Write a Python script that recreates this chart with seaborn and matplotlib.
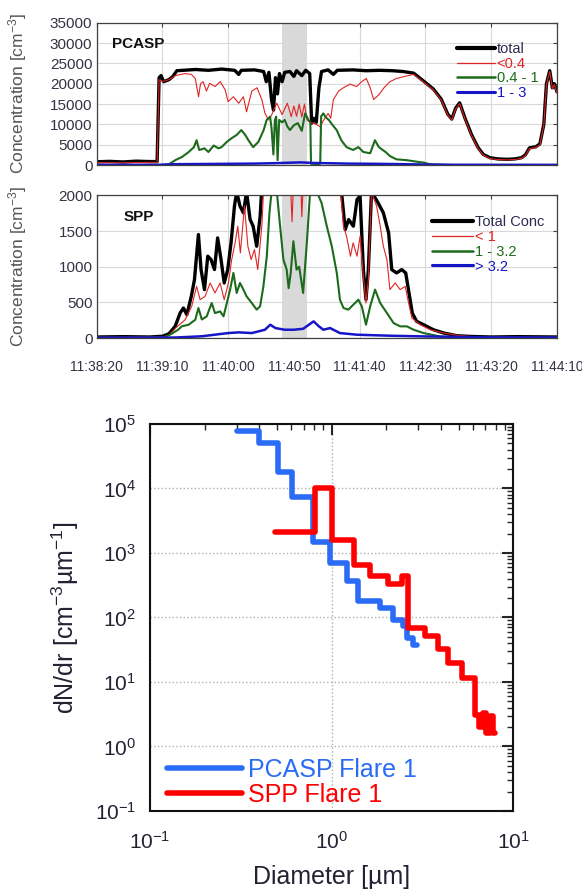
"""PCASP / SPP flare time series and size distribution."""
import matplotlib

matplotlib.use("Agg")
import matplotlib.pyplot as plt
import numpy as np
import seaborn as sns
from matplotlib.lines import Line2D
from matplotlib.ticker import LogLocator, NullFormatter

# ---------- data ----------
# time in seconds after 11:38:20
TIME_TICKS = [0, 50, 100, 150, 200, 250, 300, 350]
TIME_LABELS = ["11:38:20", "11:39:10", "11:40:00", "11:40:50",
               "11:41:40", "11:42:30", "11:43:20", "11:44:10"]
FLARE_SPAN = (141, 160)

PCASP_TOTAL = [
    (0, 800), (10, 900), (20, 750), (30, 950), (40, 850), (46, 850), (47.5, 21500),
    (49, 22000), (51, 20500), (55, 21000), (58, 21800), (61, 23200), (66, 23300),
    (75, 23500), (85, 23300), (95, 23600), (105, 23300), (108, 22300), (110, 23300),
    (120, 23400), (127, 23000), (129, 20500), (131, 22800), (133, 16000), (134.5, 13500),
    (136, 21500), (137.5, 17500), (139, 22500), (141, 20500), (143, 22800), (147, 23000),
    (150, 21800), (152, 23200), (156, 22000), (159, 23300), (162, 22500), (163.5, 10300),
    (165, 11500), (167, 10500), (169, 19000), (171, 23000), (176, 23400), (180, 22300),
    (183, 23300), (195, 23400), (205, 23200), (215, 23300), (225, 23200), (233, 23000),
    (241, 22600), (248, 20800), (256, 18700), (262, 16200), (267, 12500), (270, 11300),
    (273, 14000), (276, 15300), (280, 11600), (285, 7500), (290, 4300), (294, 2600),
    (299, 1800), (305, 1500), (312, 1400), (318, 1500), (323, 1800), (326, 2500),
    (329, 4200), (334, 4500), (337, 5200), (340, 10000), (342, 20000), (344.5, 23200),
    (346.5, 19000), (348, 20000), (350, 18000),
]
PCASP_SMALL = [
    (0, 600), (20, 550), (40, 650), (46, 600), (47.5, 21000), (50, 20500), (55, 21000),
    (60, 22000), (67, 22500), (72, 22300), (75, 21300), (77.5, 16800), (79, 20000),
    (81, 20500), (83.5, 18200), (86, 20100), (90, 19300), (94, 20500), (97.7, 18500),
    (100, 15600), (104, 16800), (108, 15200), (111.6, 16800), (114, 13100), (118, 18200),
    (122, 19000), (125.6, 16100), (128, 12700), (130.6, 11100), (133, 12300), (137, 15200),
    (141, 12400), (145, 15200), (148, 11900), (150, 14500), (152, 12000), (154, 15000),
    (156, 11800), (158, 15000), (160, 11100), (162, 10500), (165, 10300), (168, 9800),
    (170, 9400), (172.5, 11000), (176, 12700), (178, 11500), (180, 16100), (184, 18200),
    (187.6, 19000), (192.7, 19900), (197.7, 19300), (201.5, 20500), (205, 21300),
    (208, 19000), (210.6, 16100), (214.6, 17300), (218.5, 19000), (223, 20500),
    (228, 21300), (233, 21700), (241, 22300), (248, 20600), (256, 18500), (262, 16000),
    (267, 12300), (270, 11100), (273, 13800), (276, 15100), (280, 11400), (285, 7300),
    (290, 4100), (294, 2400), (299, 1600), (305, 1350), (312, 1250), (318, 1350),
    (323, 1650), (326, 2300), (329, 4000), (334, 4300), (337, 5000), (340, 9800),
    (342, 19800), (344.5, 23000), (346.5, 18800), (348, 19800), (350, 17800),
]
PCASP_MID = [
    (0, 0), (50, 0), (55, 200), (60, 1230), (65, 2000), (70, 3200), (74, 4400), (76, 6100),
    (78, 3700), (82, 4100), (85, 3200), (89, 4800), (92.6, 4100), (95, 4400), (99, 5700),
    (102.7, 6600), (106.5, 7400), (110, 8600), (113, 7400), (115.4, 6100), (119, 4400),
    (123, 5700), (127, 8600), (129.3, 11100), (131.9, 11900), (133, 9000), (134.4, 2600),
    (135.5, 11000), (136.5, 11900), (137.6, 1200), (138.8, 11100), (141, 10500),
    (143, 11100), (145, 9500), (147, 8600), (150, 9800), (153, 10300), (156, 8400),
    (158.5, 12700), (161, 11100), (162.5, 10500), (163, 300), (168, 200), (170, 300),
    (170.7, 12000), (172.4, 12700), (174, 11800), (176.5, 11100), (179, 10000),
    (182.5, 8600), (186, 6100), (190, 4400), (195, 3700), (199, 4400), (202.8, 3200),
    (208, 2900), (211.6, 6100), (214.6, 4400), (219.7, 3200), (223, 2200), (228, 1400),
    (235.6, 1200), (243.3, 820), (248.6, 600), (254, 150), (270, 0), (350, 0),
]
PCASP_LARGE = [
    (0, 50), (47, 60), (60, 200), (80, 250), (100, 300), (120, 350), (135, 450),
    (145, 550), (155, 650), (165, 500), (175, 450), (190, 350), (210, 300), (230, 220),
    (250, 120), (270, 60), (350, 40),
]

SPP_TOTAL = [
    (0, 15), (20, 20), (40, 15), (50, 25), (55, 60), (59.7, 164), (63.5, 351), (66, 421),
    (68.6, 328), (72, 585), (74.4, 819), (77.4, 1451), (79.4, 959), (82, 679), (84.5, 1147),
    (87, 1100), (89.6, 960), (92, 1404), (94.6, 1100), (97, 772), (99.7, 960), (102.2, 1334),
    (104.8, 1849), (106.5, 2050), (109, 1850), (111.6, 1755), (114, 2050), (116.7, 1661),
    (119, 1568), (121.7, 1287), (124.3, 1700), (125.6, 2100), (130, 2600), (140, 3200),
    (150, 3500), (160, 3400), (170, 3000), (180, 2500), (184, 2100), (186.5, 1989),
    (189, 1521), (191.6, 1661), (195.2, 1568), (198, 1942), (200.3, 1989), (202.8, 959),
    (204.8, 538), (206.6, 959), (209, 2050), (214, 1895), (218, 1755), (222, 1474),
    (224.4, 959), (228, 913), (232, 959), (235, 913), (237.5, 632), (240, 351),
    (243.3, 234), (248.6, 187), (256, 117), (264, 70), (274, 33), (284, 23), (300, 15),
    (320, 20), (350, 15),
]
SPP_SMALL = [
    (0, 10), (50, 15), (55, 40), (60, 140), (67.3, 257), (72.3, 445), (76, 725),
    (78.7, 538), (82.5, 585), (86.3, 772), (90, 632), (93.9, 772), (97, 538), (100.2, 772),
    (102.7, 1100), (105.3, 1334), (107.3, 1568), (109.3, 1193), (112.4, 1849), (115, 1287),
    (117.5, 1100), (120, 1240), (122.5, 960), (125.6, 1568), (127, 2100), (135, 2500),
    (145, 2400), (147.5, 2100), (148.6, 1630), (149.5, 2100), (155, 2300), (156, 1700),
    (157, 2100), (170, 2600), (183, 2300), (185.5, 2050), (187.7, 1568), (190, 1427),
    (193, 1147), (195, 1334), (198, 1147), (200.3, 1427), (202.8, 866), (204.8, 491),
    (206.6, 819), (209, 2050), (212.9, 1849), (215.6, 1568), (218, 1287), (220.7, 1100),
    (223, 679), (227, 772), (230.8, 679), (234.6, 725), (237.2, 491), (239.7, 281),
    (246, 187), (253.7, 117), (263.8, 70), (276.5, 33), (289, 15), (350, 8),
]
SPP_MID = [
    (0, 3), (51, 5), (57, 60), (62, 117), (64.7, 164), (70, 187), (75, 257), (77.4, 421),
    (80, 260), (83.7, 304), (87.5, 491), (90, 350), (93.9, 374), (96.5, 304), (99, 491),
    (101.5, 679), (104, 913), (106.5, 632), (109, 772), (111.6, 679), (114, 585),
    (118, 491), (121.7, 398), (124.3, 445), (126.8, 725), (129.4, 1147), (131.4, 1755),
    (133, 2050), (137, 2050), (139.5, 1570), (142, 1100), (144.5, 960), (146, 700),
    (147.5, 900), (149.6, 1357), (152, 959), (154, 1000), (157, 632), (160, 1380),
    (162.3, 2050), (167.4, 2050), (171, 1895), (175, 1568), (178.8, 1287), (182.6, 913),
    (185, 538), (187.7, 421), (191.4, 398), (195.2, 468), (199, 538), (201.6, 445),
    (204.8, 187), (208, 445), (211.7, 679), (215.6, 491), (220.7, 351), (225.8, 210),
    (230.8, 164), (235.9, 164), (241, 117), (248.6, 70), (261, 23), (275, 8), (350, 5),
]
SPP_LARGE = [
    (0, 5), (60, 8), (80, 25), (100, 70), (108, 80), (118, 70), (128, 117), (132, 187),
    (136, 140), (143, 117), (150, 117), (157, 130), (165, 234), (169, 164), (172.4, 117),
    (177.5, 140), (185, 70), (198, 47), (223, 33), (248.6, 23), (300, 10), (350, 8),
]

# dN/dr size distribution, bin edges in µm
PCASP_EDGES = [0.30, 0.40, 0.507, 0.605, 0.79, 0.98, 1.21, 1.40, 1.84, 2.18, 2.46, 2.61, 2.81, 2.94]
PCASP_DNDR = [7.9e4, 5.1e4, 1.8e4, 7.4e3, 1.5e3, 700, 363, 178, 140, 92, 73, 48, 38]
SPP_EDGES = [0.49, 0.81, 1.0, 1.32, 1.63, 2.05, 2.43, 2.64, 3.26, 3.86, 4.38, 5.19,
             6.15, 6.5, 6.8, 7.1, 7.4, 7.7, 7.9]
SPP_DNDR = [2100, 1.0e4, 1600, 660, 435, 325, 435, 69, 51, 32, 19.7, 11.5,
            3.1, 2.0, 3.3, 1.6, 3.0, 1.6]

# ---------- style ----------
sns.set_style("white")
plt.rcParams["font.family"] = ["Liberation Sans", "DejaVu Sans"]
plt.rcParams["mathtext.fontset"] = "custom"
plt.rcParams["mathtext.rm"] = "Liberation Sans"
plt.rcParams["mathtext.it"] = "Liberation Sans:italic"
plt.rcParams["mathtext.bf"] = "Liberation Sans:bold"

BLACK, RED, GREEN, BLUE = "#000000", "#e02424", "#1c6b1c", "#1616c8"
LABEL_GRAY = "#555555"


def draw_series(ax, pts, color, lw):
    t, v = zip(*pts)
    sns.lineplot(x=list(t), y=list(v), ax=ax, color=color, linewidth=lw,
                 estimator=None, sort=False, legend=False)


def style_time_axis(ax, ymax, ystep):
    ax.set_xlim(0, 350)
    ax.set_ylim(0, ymax)
    ax.set_xticks(TIME_TICKS)
    ax.set_yticks(np.arange(0, ymax + 1, ystep))
    ax.grid(True, color="#d8d8d8", lw=0.8)
    ax.set_axisbelow(True)
    ax.axvspan(*FLARE_SPAN, color="#d9d9d9", lw=0, zorder=1)
    ax.tick_params(direction="in", top=True, right=True, length=3, width=0.8,
                   color="#404040", labelsize=11, labelcolor="#333344", pad=3)
    for sp in ax.spines.values():
        sp.set_color("#404040")
        sp.set_linewidth(0.9)
    ax.set_xlabel("")
    ax.set_ylabel("Concentration [cm$^{-3}$]", fontsize=12.5, color=LABEL_GRAY)
    ax.yaxis.set_label_coords(-0.147, 0.5)


def time_legend(ax, labels, widths, colors, text_colors, anchor, hlen):
    handles = [Line2D([], [], color=c, lw=w) for c, w in zip(colors, widths)]
    leg = ax.legend(handles, labels, loc="upper left", bbox_to_anchor=anchor,
                    frameon=False, fontsize=10.5, handlelength=hlen, handletextpad=0.15,
                    labelspacing=0.05, borderpad=0, borderaxespad=0)
    for txt, c in zip(leg.get_texts(), text_colors):
        txt.set_color(c)


fig = plt.figure(figsize=(5.82, 8.92), dpi=100)
ax1 = fig.add_axes([0.166, 0.815, 0.791, 0.1595])
ax2 = fig.add_axes([0.166, 0.621, 0.791, 0.160])
ax3 = fig.add_axes([0.2577, 0.0908, 0.6244, 0.4339])

# ---------- PCASP ----------
style_time_axis(ax1, 35000, 5000)
draw_series(ax1, PCASP_TOTAL, BLACK, 2.4)
draw_series(ax1, PCASP_SMALL, RED, 0.8)
draw_series(ax1, PCASP_MID, GREEN, 1.5)
draw_series(ax1, PCASP_LARGE, BLUE, 1.8)
ax1.set_xticklabels([])
ax1.text(0.033, 0.85, "PCASP", transform=ax1.transAxes, fontsize=11,
         fontweight="bold", ha="left", va="center", color="#111111")
time_legend(ax1, ["total", "<0.4", "0.4 - 1", "1 - 3"], [3.0, 0.9, 1.8, 2.2],
            [BLACK, RED, GREEN, BLUE], ["#2b2b50", RED, GREEN, BLUE],
            (0.782, 0.865), 2.6)

# ---------- SPP ----------
style_time_axis(ax2, 2000, 500)
draw_series(ax2, SPP_TOTAL, BLACK, 2.4)
draw_series(ax2, SPP_SMALL, RED, 0.8)
draw_series(ax2, SPP_MID, GREEN, 1.5)
draw_series(ax2, SPP_LARGE, BLUE, 1.8)
ax2.set_xticklabels(TIME_LABELS, fontsize=10)
ax2.tick_params(axis="x", pad=16)
ax2.text(0.058, 0.849, "SPP", transform=ax2.transAxes, fontsize=11,
         fontweight="bold", ha="left", va="center", color="#111111")
time_legend(ax2, ["Total Conc", "< 1", "1 - 3.2", "> 3.2"], [3.0, 0.9, 1.8, 2.2],
            [BLACK, RED, GREEN, BLUE], ["#2b2b50", RED, GREEN, BLUE],
            (0.728, 0.86), 2.8)

# ---------- size distribution ----------
ax3.set_xscale("log")
ax3.set_yscale("log")
PCASP_BLUE, SPP_RED = "#2a6cf5", "#ff0000"
sns.lineplot(x=PCASP_EDGES, y=PCASP_DNDR + PCASP_DNDR[-1:], ax=ax3, color=PCASP_BLUE,
             linewidth=4, drawstyle="steps-post", estimator=None, sort=False,
             label="PCASP Flare 1")
sns.lineplot(x=SPP_EDGES, y=SPP_DNDR + SPP_DNDR[-1:], ax=ax3, color=SPP_RED,
             linewidth=4, drawstyle="steps-post", estimator=None, sort=False,
             label="SPP Flare 1")
ax3.set_xlim(0.1, 10)
ax3.set_ylim(0.1, 1e5)
ax3.xaxis.set_major_locator(LogLocator(base=10, numticks=10))
ax3.yaxis.set_major_locator(LogLocator(base=10, numticks=10))
for axis in (ax3.xaxis, ax3.yaxis):
    axis.set_minor_locator(LogLocator(base=10, subs=np.arange(2, 10), numticks=20))
    axis.set_minor_formatter(NullFormatter())
ax3.grid(True, which="major", ls=":", color="#b0b0b0", lw=1)
ax3.tick_params(which="both", direction="in", top=True, right=True,
                labelsize=15, labelcolor="#222233")
ax3.tick_params(axis="x", which="both", pad=14)
ax3.tick_params(axis="y", which="both", pad=10)
ax3.tick_params(which="major", length=8, width=1.5)
ax3.tick_params(which="minor", length=4, width=1)
for sp in ax3.spines.values():
    sp.set_linewidth(1.5)
    sp.set_color("#111111")
ax3.set_xlabel("Diameter [µm]", fontsize=18, color="#222233")
ax3.set_ylabel("dN/dr [cm$^{-3}$µm$^{-1}$]", fontsize=18, color="#222233")
ax3.xaxis.set_label_coords(0.5, -0.14)
ax3.yaxis.set_label_coords(-0.19, 0.5)
leg = ax3.legend(loc="lower left", bbox_to_anchor=(0.047, 0.01), frameon=False,
                 fontsize=18, handlelength=3.0, handletextpad=0.25, labelspacing=0.05,
                 borderpad=0, borderaxespad=0, labelcolor="linecolor")

fig.savefig("out.png", dpi=100)
plt.close(fig)
